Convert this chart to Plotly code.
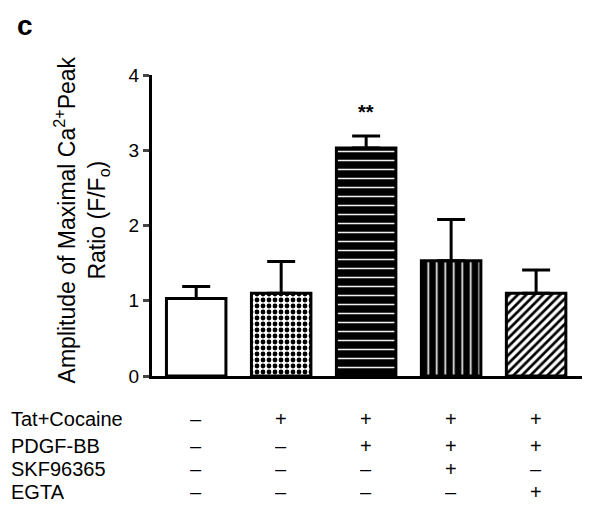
import plotly.graph_objects as go

groups = ["G1", "G2", "G3", "G4", "G5"]
means = [1.03, 1.10, 3.03, 1.53, 1.10]
sem = [0.16, 0.42, 0.16, 0.55, 0.31]
row_labels = ["Tat+Cocaine", "PDGF-BB", "SKF96365", "EGTA"]
table = [
    ["–", "+", "+", "+", "+"],
    ["–", "–", "+", "+", "+"],
    ["–", "–", "–", "+", "–"],
    ["–", "–", "–", "–", "+"],
]
y_ticks = [0, 1, 2, 3, 4]

FONT = "Arial, Liberation Sans, sans-serif"

shapes = ["", ".", "-", "|", "/"]
fg = ["black", "black", "#f0f0f0", "#f0f0f0", "black"]
bg = ["white", "white", "black", "black", "white"]
sol = [0, 0.5, 0.17, 0.2, 0.45]
sizes = [8, 6, 9, 8.5, 6]

fig = go.Figure()
for i, g in enumerate(groups):
    fig.add_trace(go.Bar(
        x=[i], y=[means[i]], width=0.7,
        marker=dict(color=bg[i], line=dict(color="black", width=3),
                    pattern=dict(shape=shapes[i], fgcolor=fg[i], bgcolor=bg[i],
                                 solidity=sol[i], size=sizes[i], fillmode="replace") if shapes[i] else None),
        error_y=dict(type="data", array=[sem[i]], arrayminus=[0], symmetric=False,
                     color="black", thickness=3, width=14),
        showlegend=False,
    ))

ann = []
ann.append(dict(x=2, y=means[2] + sem[2] + 0.14, xref="x", yref="y", text="<b>**</b>",
                showarrow=False, font=dict(size=20, family=FONT, color="black"), yanchor="bottom"))
row_y = [-0.143, -0.233, -0.309, -0.385]
for r, lab in enumerate(row_labels):
    ann.append(dict(x=-0.3325, y=row_y[r], xref="paper", yref="paper", text=lab,
                    showarrow=False, xanchor="left", yanchor="middle", height=22,
                    font=dict(size=20, family=FONT, color="black")))
    for c in range(len(groups)):
        ann.append(dict(x=c, y=row_y[r], xref="x", yref="paper", text=table[r][c],
                        showarrow=False, xanchor="center", yanchor="middle", height=20,
                        font=dict(size=20, family=FONT, color="black")))
ann.append(dict(x=-0.295, y=1.2226, xref="paper", yref="paper", text="<b>c</b>", showarrow=False,
                xanchor="center", yanchor="top",
                font=dict(size=28, family=FONT, color="black")))
ann.append(dict(x=-0.163, y=0.52, xref="paper", yref="paper",
                text="Amplitude of Maximal Ca<sup>2+</sup>Peak<br>Ratio (F/F<sub>o</sub>)",
                textangle=-90, showarrow=False, xanchor="center", yanchor="middle",
                font=dict(size=23, family=FONT, color="black")))

fig.update_layout(
    width=584, height=504,
    margin=dict(l=144, r=10, t=67, b=136),
    plot_bgcolor="white", paper_bgcolor="white",
    font=dict(family=FONT, color="black"),
    annotations=ann,
)
fig.update_xaxes(range=[-0.52, 4.54], showticklabels=False, ticks="", showline=True,
                 linecolor="black", linewidth=3, showgrid=False, zeroline=False)
fig.update_yaxes(range=[0, 4], tickvals=y_ticks, ticks="outside", ticklen=6, tickwidth=2.5,
                 showline=True, linecolor="black", linewidth=3, showgrid=False, zeroline=False,
                 tickfont=dict(size=19, family=FONT, color="black"))

fig.write_html("out.html")
